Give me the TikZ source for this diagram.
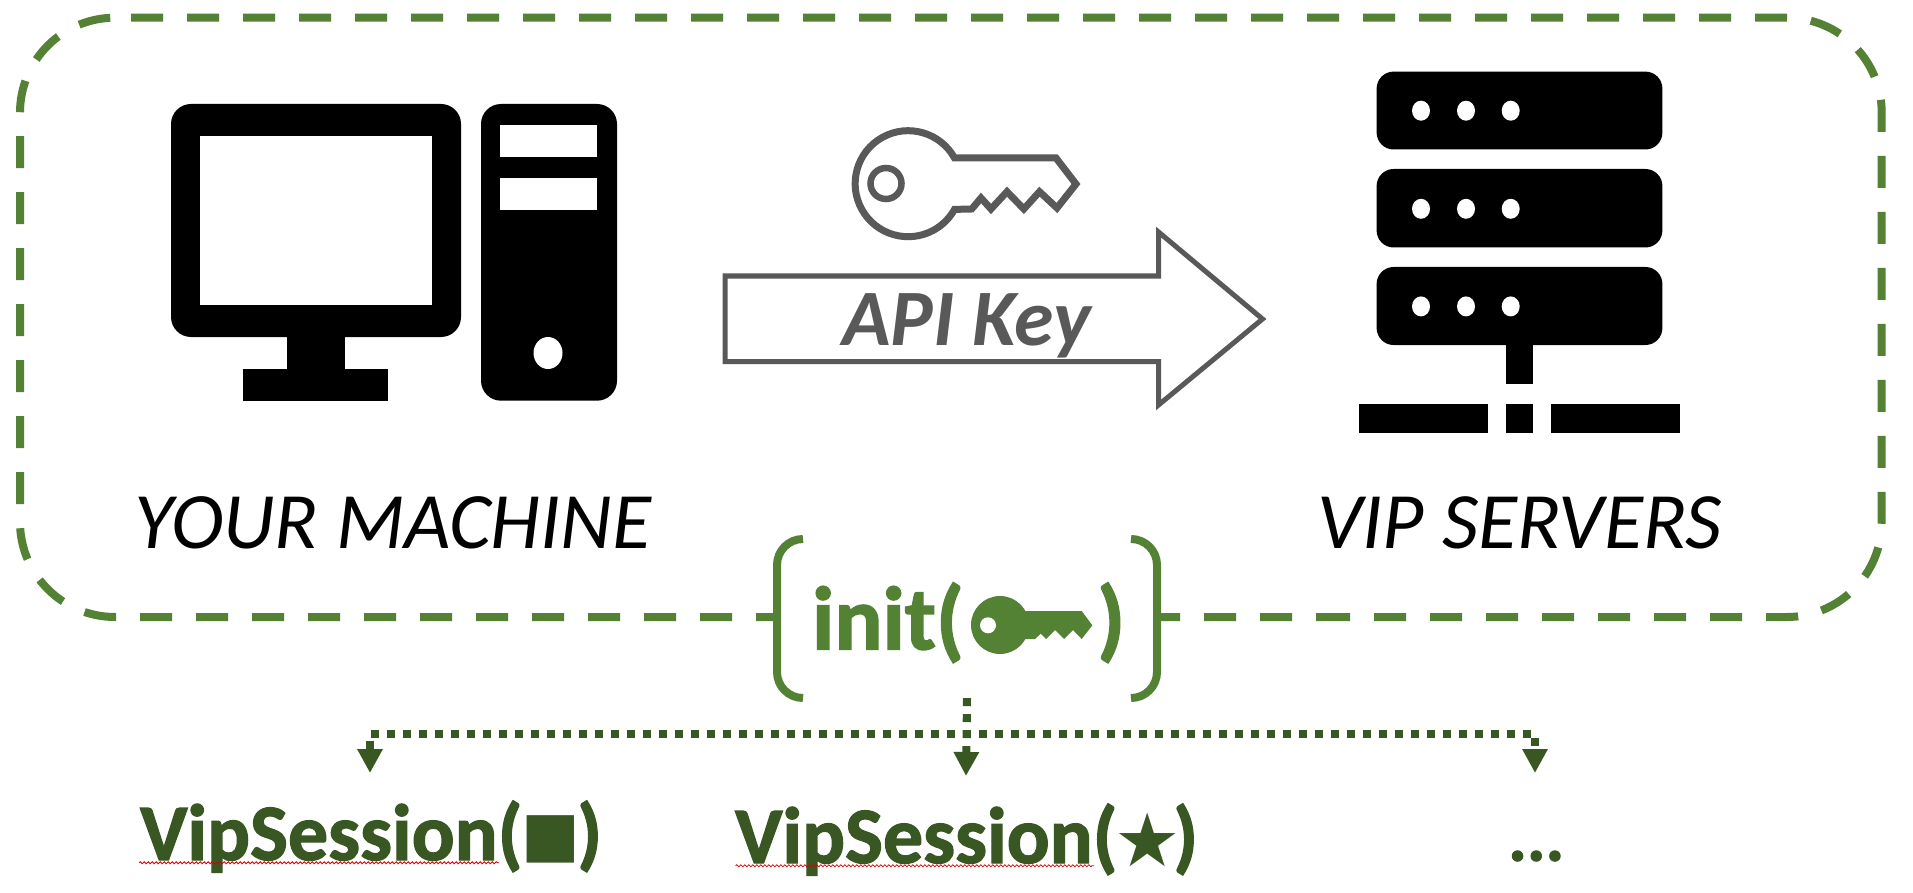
\documentclass[tikz,border=0pt]{standalone}
\usepackage{fontspec}
\setmainfont{Carlito}
\newfontfamily\heavy{Carlito}[BoldFeatures={FakeBold=1.6}]
\newfontfamily\symfont{DejaVu Sans}
\usetikzlibrary{arrows.meta,decorations.pathmorphing}
\definecolor{framegreen}{HTML}{548235}
\definecolor{darkgreen}{HTML}{385723}
\definecolor{keygrey}{HTML}{595959}
\tikzset{
  framedash/.style={draw=framegreen,line width=8pt,dash pattern=on 32pt off 24pt,rounded corners=95pt},
  bracketline/.style={draw=framegreen,line width=8pt,rounded corners=26pt},
  greyline/.style={draw=keygrey,line join=miter},
  label/.style={inner sep=0pt,anchor=base west},
  sizeA/.style={font=\fontsize{80}{80}\selectfont\itshape},
  sizeB/.style={font=\fontsize{90}{90}\heavy\bfseries,text=framegreen},
  sizeC/.style={font=\fontsize{80}{80}\heavy\bfseries,text=darkgreen},
  dotted conn/.style={draw=darkgreen,line width=8pt,dash pattern=on 8pt off 8pt,-{Triangle[width=24pt,length=24pt]},fill=none},
  squiggle/.style={draw=red!85!black,line width=0.8pt,decorate,decoration={snake,amplitude=1pt,segment length=4pt}}
}
\begin{document}
\begin{tikzpicture}[x=1pt,y=1pt,yscale=-1]
\useasboundingbox (0,0) rectangle (1913,893);
\fill[white] (0,0) rectangle (1913,893);
% frame
\draw[framedash] (131,17.7) -- (1881.7,17.7) -- (1881.7,617) -- (1348,617);
\draw[framedash] (1348,617) -- (20,617) -- (20,17.7) -- (131,17.7);
% computer
\fill[black,rounded corners=20pt] (171,104) rectangle (461,337);
\fill[white] (200,135.7) rectangle (432,305);
\fill[black] (287,330) rectangle (345,369);
\fill[black] (243,369) rectangle (388,400.7);
\fill[black,rounded corners=20pt] (481,104) rectangle (617,400.7);
\fill[white] (500,125) rectangle (597,156.7);
\fill[white] (500,178) rectangle (597,210);
\fill[white] (548,353) ellipse [x radius=14.5,y radius=16];
% outline key
\draw[greyline,line width=7pt] (954.5,158) arc[start angle=-29,end angle=-331,radius=53]
  -- (971.7,209) -- (981,198) -- (991,209) -- (1007,191.7) -- (1023.8,209) -- (1039.5,191.7) -- (1057,208) -- (1076,184) -- (1056,158) -- cycle;
\draw[greyline,line width=6.5pt] (886,183.5) circle[radius=15.5];
% block arrow
\draw[greyline,line width=5pt,fill=white] (725,276) -- (1158.5,276) -- (1158.5,232) -- (1262.5,319) -- (1158.5,405) -- (1158.5,361.7) -- (725,361.7) -- cycle;
\node[label,font=\fontsize{80}{80}\selectfont\bfseries\itshape,text=keygrey] (apikey) at (842,345.7) {API Key};
% server
\foreach \ya/\yb/\yc in {71.6/149.5/110.7,169/247.5/208.8,267/345/306.4}{
  \fill[black,rounded corners=17pt] (1376.6,\ya) rectangle (1662.4,\yb);
  \foreach \xc in {1421,1466,1510.7}{\fill[white] (\xc,\yc) ellipse[x radius=9,y radius=10];}
}
\fill[black] (1506,340) rectangle (1533,384);
\fill[black] (1358.6,404) rectangle (1488,433.4);
\fill[black] (1506,404) rectangle (1533,433.4);
\fill[black] (1550.6,404) rectangle (1680.4,433.4);
% captions
\node[label,sizeA] (machine) at (134,548) {YOUR MACHINE};
\node[label,sizeA] (servers) at (1317,548) {VIP SERVERS};
% init box
\node[fill=white,inner sep=0pt,minimum width=388pt,minimum height=159pt] (initbox) at (967,618.5) {};
\draw[bracketline] (803,539) -- (777,539) -- (777,698) -- (803,698);
\draw[bracketline] (1131,539) -- (1157,539) -- (1157,698) -- (1131,698);
\node[label,sizeB] (inittext) at (812,649.3) {init(};
\node[label,sizeB] (initclose) at (1097,649.3) {)};
\fill[framegreen] (1000,625) circle[radius=29];
\fill[framegreen] (1015,611) -- (1081.7,611) -- (1092.3,625.3) -- (1081.7,639) -- (1073,630) -- (1064,639) -- (1055,630) -- (1046,639) -- (1040.7,633.7) -- (1035,639) -- (1015,639) -- cycle;
\fill[white] (988,625.3) circle[radius=8];
% sessions
\node[label,sizeC] (vip1) at (140,860) {VipSession(};
\node[label,sizeC] (vip1close) at (577,860) {)};
\node[label,font=\fontsize{62}{62}\symfont,text=darkgreen] (square) at (521,855) {■};
\node[label,sizeC] (vip2) at (735,863) {VipSession(};
\node[label,sizeC] (vip2close) at (1173,863) {)};
\node[label,font=\fontsize{74}{74}\symfont,text=darkgreen] (star) at (1114,866) {★};
\node[label,sizeC,font=\fontsize{70}{70}\heavy\bfseries] (more) at (1508,860.7) {...};
\draw[squiggle] (139,862.7) -- (499,862.7);
\draw[squiggle] (735.6,865.7) -- (1094,865.7);
% connectors
\coordinate (hub) at (967,734);
\coordinate (t1) at (370,773);
\coordinate (t2) at (966,776);
\coordinate (t3) at (1535,773);
\draw[dotted conn] (initbox.south) -- (hub) -| (t1);
\draw[dotted conn] (initbox.south) -- (t2);
\draw[dotted conn] (initbox.south) -- (hub) -| (t3);
\end{tikzpicture}
\end{document}
